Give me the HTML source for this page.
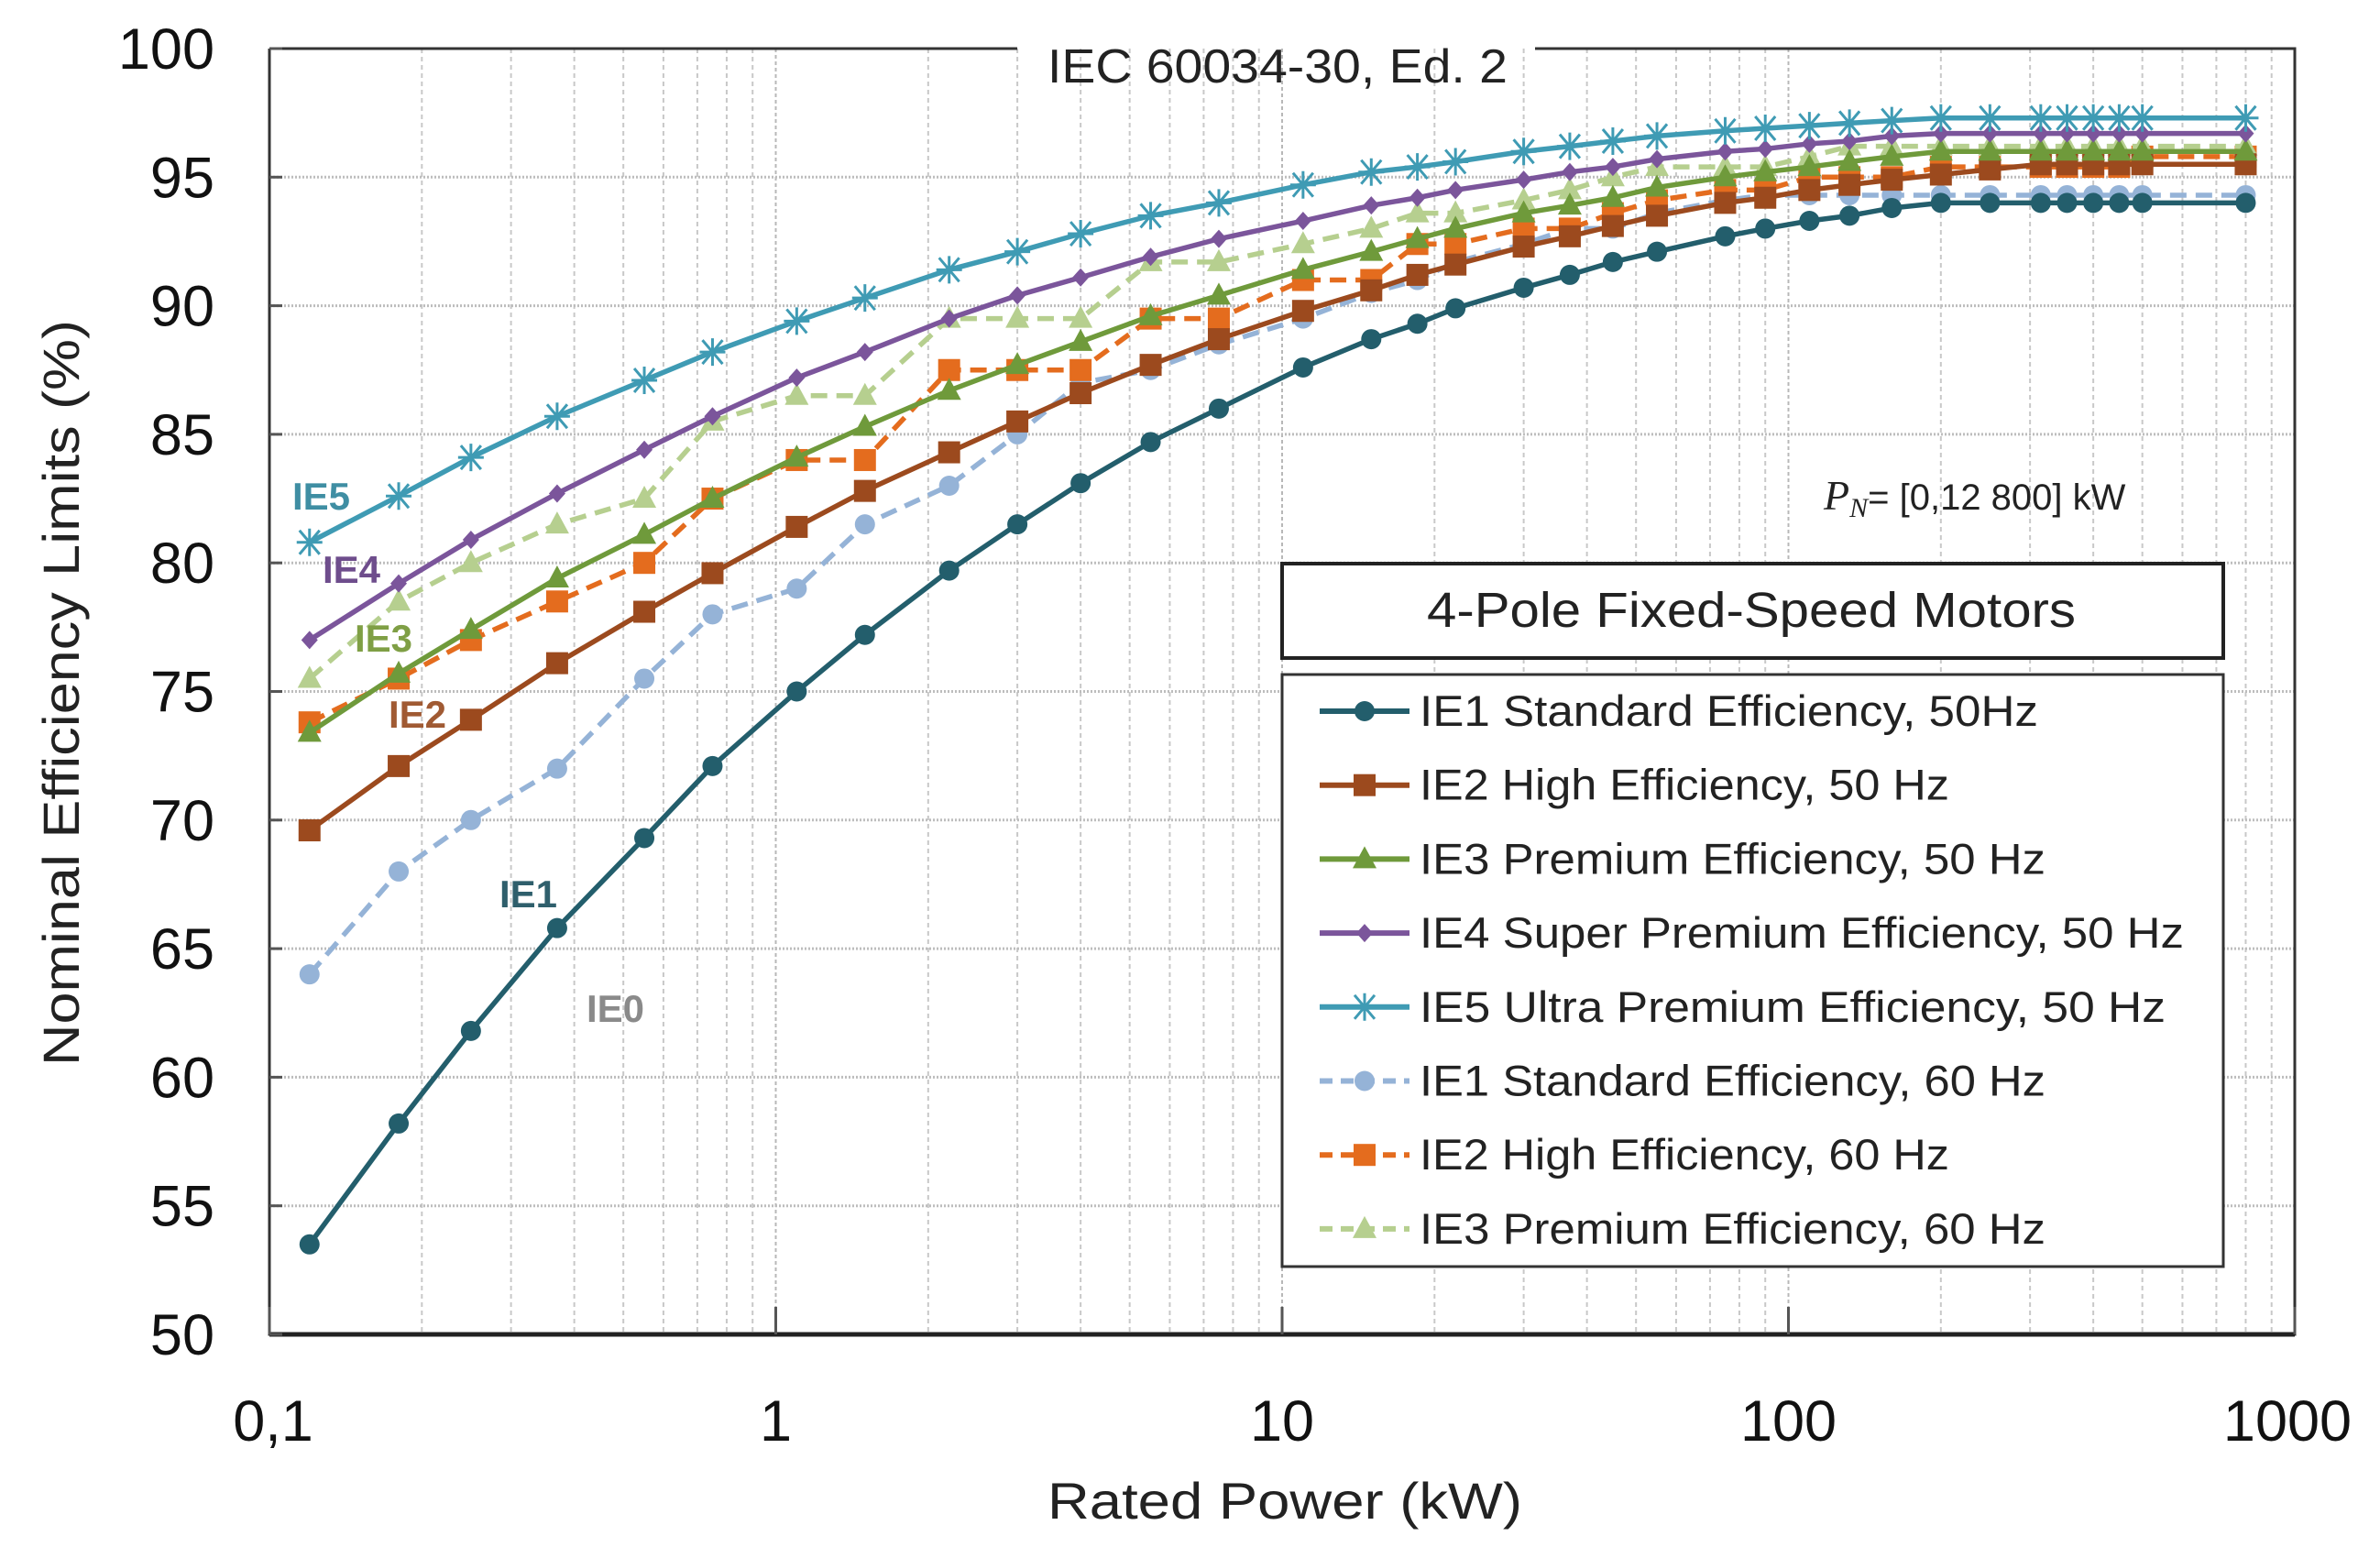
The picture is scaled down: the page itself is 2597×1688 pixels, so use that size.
<!DOCTYPE html>
<html><head><meta charset="utf-8"><style>
html,body{margin:0;padding:0;background:#fff;}
svg{display:block;font-family:"Liberation Sans",sans-serif;}
</style></head><body>
<svg id="chart" width="2597" height="1688" viewBox="0 0 2597 1688" xmlns="http://www.w3.org/2000/svg">
<g id="grid"></g>
<g id="series"></g>
<g id="axes"></g>
</svg>
<script>
const powers = [0.12,0.18,0.25,0.37,0.55,0.75,1.1,1.5,2.2,3,4,5.5,7.5,11,15,18.5,22,30,37,45,55,75,90,110,132,160,200,250,315,355,400,450,500,800];
const ie1_50 = [53.5,58.2,61.8,65.8,69.3,72.1,75.0,77.2,79.7,81.5,83.1,84.7,86.0,87.6,88.7,89.3,89.9,90.7,91.2,91.7,92.1,92.7,93.0,93.3,93.5,93.8,94.0,94.0,94.0,94.0,94.0,94.0,94.0,94.0];
const ie2_50 = [69.6,72.1,73.9,76.1,78.1,79.6,81.4,82.8,84.3,85.5,86.6,87.7,88.7,89.8,90.6,91.2,91.6,92.3,92.7,93.1,93.5,94.0,94.2,94.5,94.7,94.9,95.1,95.3,95.5,95.5,95.5,95.5,95.5,95.5];
const ie3_50 = [73.4,75.7,77.4,79.4,81.1,82.5,84.1,85.3,86.7,87.7,88.6,89.6,90.4,91.4,92.1,92.6,93.0,93.6,93.9,94.2,94.6,95.0,95.2,95.4,95.6,95.8,96.0,96.0,96.0,96.0,96.0,96.0,96.0,96.0];
const ie4_50 = [77.0,79.2,80.9,82.7,84.4,85.7,87.2,88.2,89.5,90.4,91.1,91.9,92.6,93.3,93.9,94.2,94.5,94.9,95.2,95.4,95.7,96.0,96.1,96.3,96.4,96.6,96.7,96.7,96.7,96.7,96.7,96.7,96.7,96.7];
const ie5_50 = [80.8,82.6,84.1,85.7,87.1,88.2,89.4,90.3,91.4,92.1,92.8,93.5,94.0,94.7,95.2,95.4,95.6,96.0,96.2,96.4,96.6,96.8,96.9,97.0,97.1,97.2,97.3,97.3,97.3,97.3,97.3,97.3,97.3,97.3];
const ie1_60 = [64.0,68.0,70.0,72.0,75.5,78.0,79.0,81.5,83.0,85.0,87.0,87.5,88.5,89.5,90.5,91.0,91.7,92.4,93.0,93.0,93.6,94.1,94.3,94.3,94.3,94.3,94.3,94.3,94.3,94.3,94.3,94.3,94.3,94.3];
const ie2_60 = [73.8,75.5,77.0,78.5,80.0,82.5,84.0,84.0,87.5,87.5,87.5,89.5,89.5,91.0,91.0,92.4,92.4,93.0,93.0,93.6,94.1,94.5,94.5,95.0,95.0,95.0,95.4,95.4,95.4,95.4,95.4,95.4,95.8,95.8];
const ie3_60 = [75.5,78.5,80.0,81.5,82.5,85.5,86.5,86.5,89.5,89.5,89.5,91.7,91.7,92.4,93.0,93.6,93.6,94.1,94.5,95.0,95.4,95.4,95.4,95.8,96.2,96.2,96.2,96.2,96.2,96.2,96.2,96.2,96.2,96.2];
const yTicks = [50,55,60,65,70,75,80,85,90,95,100];
const xTicks = [0.1,1,10,100,1000];
const xTickLabels = ["0,1","1","10","100","1000"];
const legendLabels = ["IE1 Standard Efficiency, 50Hz","IE2 High Efficiency, 50 Hz","IE3 Premium Efficiency, 50 Hz","IE4 Super Premium Efficiency, 50 Hz","IE5 Ultra Premium Efficiency, 50 Hz","IE1 Standard Efficiency, 60 Hz","IE2 High Efficiency, 60 Hz","IE3 Premium Efficiency, 60 Hz"];
const legendWidths = [675,578,683,834,814,683,578,683];

const L=294,R=2504,T=53,B=1456;
const xs=v=>L+(Math.log10(v)+1)/4*(R-L);
const ys=v=>B-(v-50)/50*(B-T);
const NS="http://www.w3.org/2000/svg";
function mk(tag,attrs,parent){const e=document.createElementNS(NS,tag);for(const k in attrs)e.setAttribute(k,attrs[k]);parent.appendChild(e);return e;}
const grid=document.getElementById('grid'),ser=document.getElementById('series'),axes=document.getElementById('axes');

for(let d=-1;d<3;d++){for(let m=2;m<=9;m++){const l=mk('line',{x1:xs(m*Math.pow(10,d)),x2:xs(m*Math.pow(10,d)),y1:T,y2:B,stroke:'#c8c8c8','stroke-width':2,'stroke-dasharray':'5 4'},grid);

}}
xTicks.slice(1,4).forEach(v=>{const l=mk('line',{x1:xs(v),x2:xs(v),y1:T,y2:B,stroke:'#b8b8b8','stroke-width':2,'stroke-dasharray':'4 3'},grid);

});
yTicks.slice(1,10).forEach(v=>{const l=mk('line',{x1:L,x2:R,y1:ys(v),y2:ys(v),stroke:'#bdbdbd','stroke-width':3,'stroke-dasharray':'2 2'},grid);

});

function marker(type,x,y,color,g){
 let e;
 if(type==='circle') e=mk('circle',{cx:x,cy:y,r:11,fill:color},g);
 else if(type==='square') e=mk('rect',{x:x-12,y:y-12,width:24,height:24,fill:color},g);
 else if(type==='triangle') e=mk('polygon',{points:`${x},${y-14} ${x+13},${y+10} ${x-13},${y+10}`,fill:color},g);
 else if(type==='diamond') e=mk('polygon',{points:`${x},${y-10} ${x+9},${y} ${x},${y+10} ${x-9},${y}`,fill:color},g);
 else { e=mk('path',{d:`M${x-14},${y}H${x+14}M${x},${y-15}V${y+15}M${x-11},${y-13}L${x+11},${y+13}M${x+11},${y-13}L${x-11},${y+13}`,stroke:color,'stroke-width':3,fill:'none'},g);}
 return e;
}
const seriesDefs=[
 {d:ie1_60,c:'#95b3d7',m:'circle',dash:'18 10',n:'ie1-60hz'},
 {d:ie2_60,c:'#e46c1e',m:'square',dash:'18 10',n:'ie2-60hz'},
 {d:ie3_60,c:'#b6cf8f',m:'triangle',dash:'18 10',n:'ie3-60hz'},
 {d:ie1_50,c:'#235e6c',m:'circle',dash:null,n:'ie1-50hz'},
 {d:ie2_50,c:'#9c4a1e',m:'square',dash:null,n:'ie2-50hz'},
 {d:ie3_50,c:'#6f9a3b',m:'triangle',dash:null,n:'ie3-50hz'},
 {d:ie4_50,c:'#7b559b',m:'diamond',dash:null,n:'ie4-50hz'},
 {d:ie5_50,c:'#3f9bb4',m:'star',dash:null,n:'ie5-50hz'}
];
seriesDefs.forEach(s=>{
 const g=mk('g',{},ser);
 
 
 const pts=s.d.map((v,i)=>xs(powers[i])+','+ys(v)).join(' ');
 const a={points:pts,fill:'none',stroke:s.c,'stroke-width':5.5,'stroke-linejoin':'round'};
 if(s.dash)a['stroke-dasharray']=s.dash;
 const pl=mk('polyline',a,g);
 
 
 s.d.forEach((v,i)=>{const e=marker(s.m,xs(powers[i]),ys(v),s.c,g);
 
 });
});

const frame=mk('path',{d:`M${L},${T}V${B}H${R}V${T}H1675M1110,${T}H${L}`,stroke:'#333',fill:'none','stroke-width':3},axes);


mk('line',{x1:L,x2:R,y1:B,y2:B,stroke:'#222','stroke-width':5},axes);
yTicks.forEach(v=>{
 mk('line',{x1:L,x2:L+14,y1:ys(v),y2:ys(v),stroke:'#555','stroke-width':3},axes);
 const t=mk('text',{x:234,y:ys(v)+22,'text-anchor':'end','font-size':63,fill:'#111'},axes);
 t.textContent=v;
 
 
});
xTicks.forEach((v,i)=>{
 mk('line',{x1:xs(v),x2:xs(v),y1:B,y2:B-30,stroke:'#555','stroke-width':3},axes);
 const t=mk('text',{x:xs(v)+(i===4?-8:(i===0?4:0)),y:1572,'text-anchor':'middle','font-size':63,fill:'#111'},axes);
 t.textContent=xTickLabels[i];
 
 
});

const lg=mk('g',{},axes);


mk('rect',{x:1399,y:736,width:1027,height:646,fill:'#fff',stroke:'#333','stroke-width':3},lg);
const order=[3,4,5,6,7,0,1,2];
legendLabels.forEach((lab,i)=>{
 const s=seriesDefs[order[i]];
 const y=776+i*80.7;
 const eg=mk('g',{},lg);
 
 
 const a={x1:1440,x2:1538,y1:y,y2:y,stroke:s.c,'stroke-width':6};
 if(s.dash)a['stroke-dasharray']='14 9';
 mk('line',a,eg);
 marker(s.m,1489,y,s.c,eg);
 const t=mk('text',{x:1549,y:y+16,'font-size':47,fill:'#222',textLength:legendWidths[i],lengthAdjust:'spacingAndGlyphs'},eg);
 t.textContent=lab;
});
</script>
<svg style="position:absolute;left:0;top:0" width="2597" height="1688">
<rect x="1399" y="615" width="1027" height="103" fill="#fff" stroke="#222" stroke-width="4"/>
<text x="1557" y="684" textLength="708" lengthAdjust="spacingAndGlyphs" font-size="54" fill="#222" font-family="Liberation Sans, sans-serif">4-Pole Fixed-Speed Motors</text>
<text x="1143" y="90" textLength="502" lengthAdjust="spacingAndGlyphs" font-size="52" fill="#222" font-family="Liberation Sans, sans-serif">IEC 60034-30, Ed. 2</text>
<text x="1990" y="556" font-size="40" fill="#222" font-family="Liberation Sans, sans-serif"><tspan font-family="Liberation Serif, serif" font-style="italic" font-size="46">P</tspan><tspan font-family="Liberation Serif, serif" font-style="italic" font-size="30" dy="8">N</tspan><tspan dy="-8">= [0,12  800] kW</tspan></text>
<text x="1143" y="1657" textLength="518" lengthAdjust="spacingAndGlyphs" font-size="56" fill="#222" font-family="Liberation Sans, sans-serif">Rated Power (kW)</text>
<text transform="translate(86,756) rotate(-90)" text-anchor="middle" textLength="814" lengthAdjust="spacingAndGlyphs" font-size="56" fill="#222" font-family="Liberation Sans, sans-serif">Nominal Efficiency Limits (%)</text>
<g font-family="Liberation Sans, sans-serif" font-size="42" font-weight="bold">
<text x="319" y="556" fill="#3f8ea3">IE5</text>
<text x="352" y="636" fill="#6e4d8c">IE4</text>
<text x="387" y="711" fill="#7f9f45">IE3</text>
<text x="424" y="794" fill="#a05a33">IE2</text>
<text x="545" y="990" fill="#2f5f6c">IE1</text>
<text x="640" y="1115" fill="#8a8a8a">IE0</text>
</g>
</svg>
</body></html>
